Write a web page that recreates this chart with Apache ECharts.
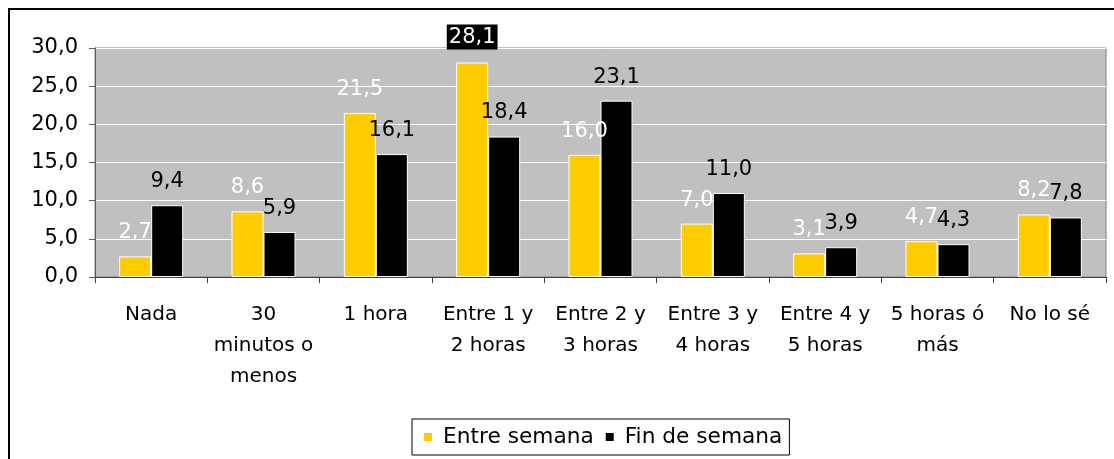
<!DOCTYPE html>
<html>
<head>
<meta charset="utf-8">
<script src="https://cdn.jsdelivr.net/npm/echarts@6/dist/echarts.min.js"></script>
<style>
html,body{margin:0;padding:0;background:#fff;}
#c{width:1114px;height:459px;}
</style>
</head>
<body>
<div id="c"></div>
<script>
const categories = ['Nada', '30\nminutos o\nmenos', '1 hora', 'Entre 1 y\n2 horas', 'Entre 2 y\n3 horas', 'Entre 3 y\n4 horas', 'Entre 4 y\n5 horas', '5 horas ó\nmás', 'No lo sé'];
const entreSemana = [2.7, 8.6, 21.5, 28.1, 16.0, 7.0, 3.1, 4.7, 8.2];
const finDeSemana = [9.4, 5.9, 16.1, 18.4, 23.1, 11.0, 3.9, 4.3, 7.8];
const seriesNames = ['Entre semana', 'Fin de semana'];

const FONT = 'DejaVu Sans, sans-serif';
const fmt = v => v.toFixed(1).replace('.', ',');

const chart = echarts.init(document.getElementById('c'), null, {renderer: 'canvas'});

const yellowData = entreSemana.map((v, i) => {
  const d = {value: v};
  if (i === 3) {
    d.label = {backgroundColor: '#000', padding: [3, 2, 1, 2]};
  }
  return d;
});

chart.setOption({
  animation: false,
  backgroundColor: '#fff',
  textStyle: {fontFamily: FONT},
  graphic: [{
    type: 'rect',
    shape: {x: 9, y: 9, width: 1200, height: 600},
    style: {fill: 'none', stroke: '#000', lineWidth: 2},
    silent: true, z: 100
  }],
  grid: {
    left: 95, right: 8, top: 48, bottom: 182,
    show: true, backgroundColor: '#C0C0C0', borderColor: '#808080', borderWidth: 1
  },
  legend: {
    data: seriesNames,
    left: 412, top: 419,
    itemWidth: 10, itemHeight: 10, itemGap: 10,
    icon: 'rect',
    borderColor: '#000', borderWidth: 1,
    padding: [7, 7, 7, 10],
    textStyle: {fontFamily: FONT, fontSize: 21.7, color: '#000', padding: [0, 0, 0, 5]}
  },
  xAxis: {
    type: 'category',
    data: categories,
    axisLine: {lineStyle: {color: '#404040', width: 1}},
    axisTick: {show: true, length: 6, lineStyle: {color: '#404040'}},
    axisLabel: {interval: 0, fontFamily: FONT, fontSize: 20, color: '#000', lineHeight: 31, margin: 22}
  },
  yAxis: {
    type: 'value', min: 0, max: 30, interval: 5,
    axisLine: {show: true, lineStyle: {color: '#606060'}},
    axisTick: {show: true, length: 6, lineStyle: {color: '#606060'}},
    splitLine: {lineStyle: {color: '#ffffff', width: 1}},
    axisLabel: {formatter: v => fmt(v), fontFamily: FONT, fontSize: 21, color: '#000', margin: 17}
  },
  series: [{
    name: seriesNames[0], type: 'bar', data: yellowData,
    barGap: '0%', barCategoryGap: '43%',
    itemStyle: {color: '#FFCC00', borderColor: '#fff', borderWidth: 1},
    label: {show: true, position: 'top', distance: 13, formatter: p => fmt(p.value),
      fontFamily: FONT, fontSize: 21, color: '#fff'}
  }, {
    name: seriesNames[1], type: 'bar', data: finDeSemana,
    itemStyle: {color: '#000', borderColor: '#fff', borderWidth: 1},
    label: {show: true, position: 'top', distance: 13, formatter: p => fmt(p.value),
      fontFamily: FONT, fontSize: 21, color: '#000'}
  }]
});
</script>
</body>
</html>
